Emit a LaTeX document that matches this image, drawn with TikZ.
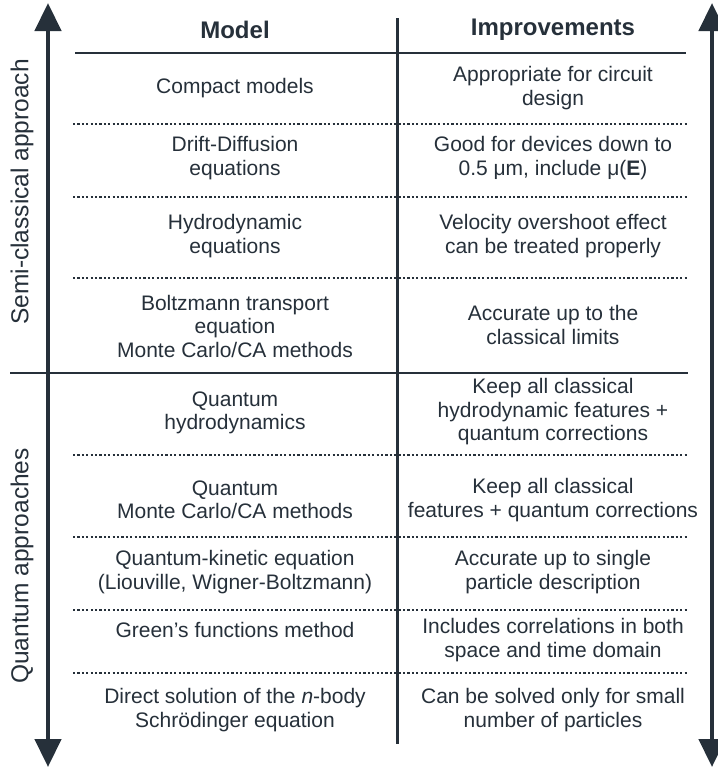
\documentclass[tikz,border=0pt]{standalone}
\usepackage{fontspec}
\setmainfont{Liberation Sans}
\usetikzlibrary{arrows.meta}
\definecolor{ink}{RGB}{38,48,58}
\begin{document}
\begin{tikzpicture}[x=1pt,y=-1pt,
  txt/.style={align=center,text=ink,font=\fontsize{21}{23.5}\selectfont,inner sep=0pt},
  hdr/.style={align=center,text=ink,font=\fontsize{24}{26}\selectfont\bfseries,inner sep=0pt},
  side/.style={text=ink,font=\fontsize{24.5}{26}\selectfont,rotate=90,inner sep=0pt},
  solidrule/.style={draw=ink,line width=2.6pt},
  dotrule/.style={draw=ink,line width=2.4pt,dash pattern=on 2.2pt off 2.2pt},
  bigarrow/.style={draw=ink,line width=4.5pt,{Triangle[width=26pt,length=28pt]}-{Triangle[width=26pt,length=28pt]}}
]
\useasboundingbox[fill=white] (0,0) rectangle (718,769);
% arrows
\coordinate (lt) at (48,3);
\coordinate (lb) at (48,767);
\coordinate (rt) at (712,3);
\coordinate (rb) at (712,767);
\draw[bigarrow] (lt) -- (lb);
\draw[bigarrow] (rt) -- (rb);
% divider
\coordinate (dt) at (397,18);
\coordinate (db) at (397,744);
\draw[draw=ink,line width=3pt] (dt) -- (db);
% rules
\coordinate (h1) at (75,53);  \coordinate (h2) at (686,53);
\draw[solidrule] (h1) -- (h2);
\coordinate (s1) at (10,373); \coordinate (s2) at (688,373);
\draw[solidrule] (s1) -- (s2);
\foreach \yy in {124,197,278,455,537,610,673}{
  \draw[dotrule] (73,\yy) -- (688,\yy);
}
% headers
\node[hdr] (hm) at (235,30) {Model};
\node[hdr] (hi) at (553,30) {Improvements};
% side labels
\node[side] (sc) at (22,192) {Semi-classical approach};
\node[side] (qa) at (22,566) {Quantum approaches};
% rows
\node[txt] (m1) at (235,88) {Compact models};
\node[txt] (i1) at (553,88) {Appropriate for circuit\\design};
\node[txt] (m2) at (235,158) {Drift-Diffusion\\equations};
\node[txt] (i2) at (553,158) {Good for devices down to\\0.5 μm, include μ(\textbf{E})};
\node[txt] (m3) at (235,236) {Hydrodynamic\\equations};
\node[txt] (i3) at (553,236) {Velocity overshoot effect\\can be treated properly};
\node[txt] (m4) at (235,326) {Boltzmann transport\\equation\\Monte Carlo/CA methods};
\node[txt] (i4) at (553,325) {Accurate up to the\\classical limits};
\node[txt] (m5) at (235,413) {Quantum\\hydrodynamics};
\node[txt] (i5) at (553,412) {Keep all classical\\hydrodynamic features +\\quantum corrections};
\node[txt] (m6) at (235,500) {Quantum\\Monte Carlo/CA methods};
\node[txt] (i6) at (553,500) {Keep all classical\\features + quantum corrections};
\node[txt] (m7) at (235,572) {Quantum-kinetic equation\\(Liouville, Wigner-Boltzmann)};
\node[txt] (i7) at (553,572) {Accurate up to single\\particle description};
\node[txt] (m8) at (235,630) {Green’s functions method};
\node[txt] (i8) at (553,640) {Includes correlations in both\\space and time domain};
\node[txt] (m9) at (235,710) {Direct solution of the \textit{n}-body\\Schrödinger equation};
\node[txt] (i9) at (553,710) {Can be solved only for small\\number of particles};
\end{tikzpicture}
\end{document}
